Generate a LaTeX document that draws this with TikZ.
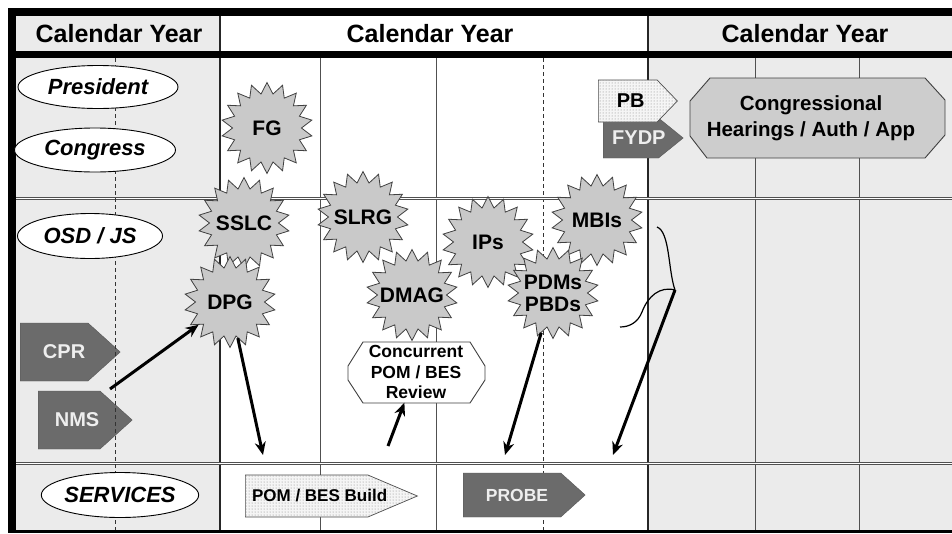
\documentclass[tikz,border=0pt]{standalone}
\usepackage{fontspec}
\setmainfont{Liberation Sans}
\usetikzlibrary{shapes.geometric,shapes.symbols,arrows.meta,patterns}
\definecolor{bggray}{HTML}{EBEBEB}
\definecolor{starfill}{HTML}{C9C9C9}
\definecolor{stardraw}{HTML}{404040}
\definecolor{darkfill}{HTML}{6B6B6B}
\definecolor{boxfill}{HTML}{CDCDCD}
\definecolor{gridline}{HTML}{505050}
\definecolor{lighttext}{HTML}{EEEEEE}
\tikzset{
  hdr/.style={font=\bfseries\fontsize{25}{27}\selectfont},
  who/.style={ellipse, draw=black, line width=0.9pt, fill=white, inner sep=0pt,
    font=\bfseries\itshape\fontsize{22}{24}\selectfont},
  burst/.style={star, star points=18, star point ratio=1.32, minimum size=91pt,
    inner sep=0pt, draw=stardraw, line width=0.8pt, fill=starfill},
  blbl/.style={font=\bfseries\fontsize{21}{22}\selectfont, align=center, inner sep=0pt},
  darksig/.style={signal, signal to=east, anchor=west, inner sep=0pt, fill=darkfill,
    draw=darkfill!80!black},
  dotsig/.style={signal, signal to=east, anchor=west, inner sep=0pt, draw=black!70,
    line width=0.7pt, fill=gray!8, postaction={pattern=dots, pattern color=gray}},
  lightlbl/.style={text=lighttext, inner sep=0pt, font=\bfseries\fontsize{20}{22}\selectfont},
  blacklbl/.style={text=black, inner sep=0pt, font=\bfseries\fontsize{20}{22}\selectfont},
  conn/.style={line width=3pt, -{Stealth[length=13pt,width=11pt]}},
  gline/.style={draw=gridline, line width=1pt},
  dline/.style={draw=black!80, line width=0.9pt, dash pattern=on 4pt off 3pt},
  chamf/.style={draw=black!75, line width=0.9pt},
}
\begin{document}
\begin{tikzpicture}[x=1pt,y=-1pt]
\useasboundingbox (0,0) rectangle (952,533);
\fill[white] (0,0) rectangle (952,533);
% backgrounds
\fill[bggray] (16,16) rectangle (220,530);
\fill[bggray] (648,16) rectangle (952,530);
% grid lines
\draw[gline] (320,58) -- (320,530);
\draw[gline] (436,58) -- (436,530);
\draw[gline] (755,58) -- (755,530);
\draw[gline] (859,58) -- (859,530);
\draw[dline] (543,58) -- (543,530);
\draw[draw=black!85, line width=1.4pt] (220,16) -- (220,530);
\draw[draw=black!85, line width=1.4pt] (648,16) -- (648,530);
\draw[draw=gridline, line width=3pt] (16,198) -- (952,198);
\draw[draw=white, line width=0.6pt] (16,198) -- (952,198);
\draw[draw=gridline, line width=3pt] (16,463) -- (952,463);
\draw[draw=white, line width=0.6pt] (16,463) -- (952,463);
% frame
\fill[black] (8,8) rectangle (952,16);
\fill[black] (16,51) rectangle (952,58);
\fill[black] (8,8) rectangle (16,533);
\fill[black] (8,530) rectangle (952,533);
% headers
\node[hdr] (h1) at (119,34) {Calendar Year};
\node[hdr] (h2) at (430,34) {Calendar Year};
\node[hdr] (h3) at (805,34) {Calendar Year};
% left column signals
\node[darksig, minimum width=100pt, minimum height=58pt, signal pointer angle=84,
  label={[lightlbl, xshift=10pt]center:CPR}] (cpr) at (20,352) {};
\node[darksig, minimum width=94pt, minimum height=58pt, signal pointer angle=84,
  label={[lightlbl, xshift=8pt]center:NMS}] (nms) at (38,420) {};
\draw[dline] (115,58) -- (115,530);
% role ellipses
\node[who, minimum width=160pt, minimum height=43pt] (pres) at (98,87) {President};
\node[who, minimum width=161pt, minimum height=44pt] (cong) at (95,150) {Congress};
\node[who, minimum width=145pt, minimum height=45pt] (osd) at (90,236) {OSD / JS};
\node[who, minimum width=145pt, minimum height=45pt] (svc) at (120,495) {SERVICES};
% PB / FYDP
\node[darksig, minimum width=80pt, minimum height=40pt, signal pointer angle=78,
  label={[lightlbl, xshift=8pt]center:FYDP}] (fydp) at (603,138) {};
\node[dotsig, minimum width=79pt, minimum height=42pt, signal pointer angle=92,
  label={[blacklbl, xshift=3pt]center:PB}] (pb) at (598,101) {};
% Congressional hearings box
\path[chamf, fill=boxfill] (710,78) -- (925,78) -- (945,100) -- (945,135) -- (925,158)
  -- (707,158) -- (690,136) -- (690,101) -- cycle;
\node[font=\bfseries\fontsize{20.5}{26}\selectfont, align=center] (hear) at (811,118)
  {Congressional\\Hearings / Auth / App};
% Concurrent review box
\path[chamf, fill=white] (363,342) -- (470,342) -- (485,366) -- (485,380) -- (470,403)
  -- (363,403) -- (348,380) -- (348,366) -- cycle;
\node[font=\bfseries\fontsize{17.5}{20.5}\selectfont, align=center, minimum width=137pt, minimum height=61pt, inner sep=0pt] (conc) at (416,372)
  {Concurrent\\POM / BES\\Review};
% bursts
\node[burst, label={[blbl]center:FG}] (fg) at (267,128) {};
\node[burst, label={[blbl]center:SSLC}] (sslc) at (244,223) {};
\node[burst, label={[blbl]center:SLRG}] (slrg) at (363,217) {};
\node[burst, label={[blbl]center:IPs}] (ips) at (488,242) {};
\node[burst, label={[blbl]center:MBIs}] (mbis) at (597,220) {};
\node[burst, label={[blbl]center:DMAG}] (dmag) at (412,295) {};
\node[burst, label={[blbl]center:{PDMs\\PBDs}}] (pdm) at (553,293) {};
\node[burst, label={[blbl]center:DPG}] (dpg) at (230,302) {};
% services row
\node[dotsig, minimum width=172pt, minimum height=42pt, signal pointer angle=46,
  label={[blacklbl, xshift=13pt, font=\bfseries\fontsize{17}{19}\selectfont]center:POM / BES Build}] (build) at (245,496) {};
\node[darksig, minimum width=122pt, minimum height=44pt, signal pointer angle=84,
  label={[lightlbl, xshift=5pt, font=\bfseries\fontsize{17.5}{19}\selectfont]center:PROBE}] (probe) at (463,495) {};
% brace
\coordinate (btip) at (675,290);
\draw[line width=1.2pt] (657,227) .. controls (670,232) and (668,270) .. (btip)
  .. controls (660,286) and (648,296) .. (642,312) .. controls (638,322) and (630,327) .. (620,327);
% connectors
\coordinate (nmsout) at (110,389);
\coordinate (dpgend) at (263,455);
\coordinate (concin) at (388,446);
\coordinate (pdmend) at (505,455);
\coordinate (braceend) at (613,455);
\draw[conn] (nmsout) -- (dpg);
\draw[conn] (dpg) -- (dpgend);
\draw[conn] (concin) -- (conc);
\draw[conn] (pdm) -- (pdmend);
\draw[conn] (btip) -- (braceend);
\end{tikzpicture}
\end{document}
